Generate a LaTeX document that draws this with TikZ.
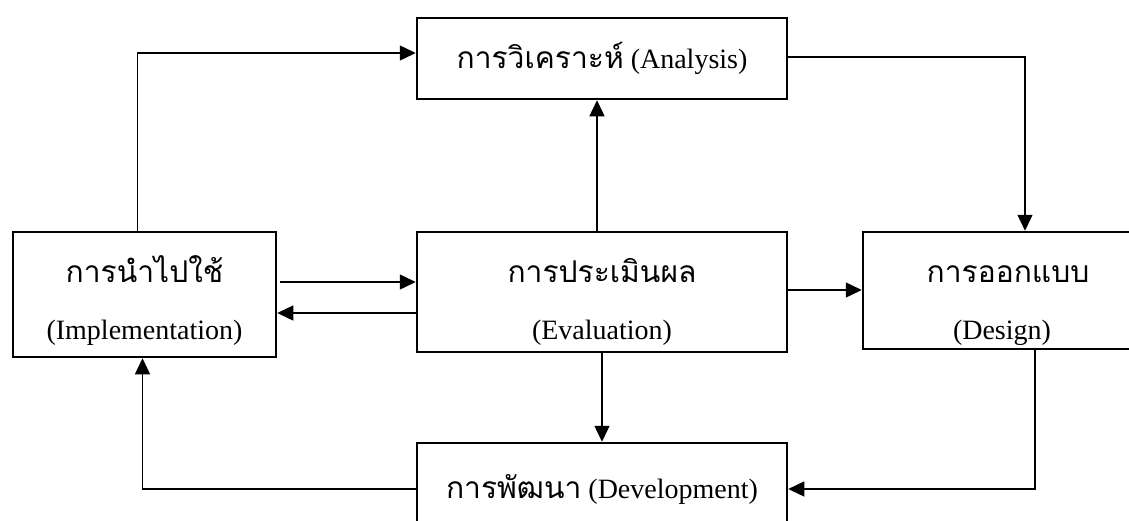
\documentclass[tikz,border=0pt]{standalone}
\usepackage{fontspec}
\setmainfont{Liberation Serif}
\newfontfamily\thaifont[Script=Thai]{Loma}
\usetikzlibrary{arrows.meta}
\newcommand{\thtxt}[1]{{\thaifont\fontsize{30}{36}\selectfont #1}}

\begin{document}
\begin{tikzpicture}[x=1pt,y=-1pt,
  stagebox/.style={draw,line width=2.5pt,rectangle,inner sep=0pt,
    font=\fontsize{28}{34}\selectfont},
  thline/.style={anchor=base,inner sep=0pt,font=\thaifont\fontsize{30}{36}\selectfont},
  enline/.style={anchor=base,inner sep=0pt,font=\fontsize{28}{34}\selectfont},
  flow/.style={line width=1.4pt,-{Triangle[length=16pt,width=15pt]}}]
\useasboundingbox (0,0) rectangle (1129,520);
% stages
\node[stagebox,minimum width=370pt,minimum height=81pt] (ana) at (602,58.5)
  {\thtxt{การวิเคราะห์} (Analysis)};
\node[stagebox,minimum width=263pt,minimum height=125pt] (impl) at (144.5,294.5) {};
\node[thline] (impl-th) at (144.5,282) {การนำไปใช้};
\node[enline] (impl-en) at (144.5,339) {(Implementation)};
\node[stagebox,minimum width=370pt,minimum height=120pt] (eval) at (602,292) {};
\node[thline] (eval-th) at (602,282) {การประเมินผล};
\node[enline] (eval-en) at (602,339) {(Evaluation)};
\node[stagebox,minimum width=290pt,minimum height=117pt] (des) at (1008,290.5) {};
\node[thline] (des-th) at (1008,282) {การออกแบบ};
\node[enline] (des-en) at (1002,339) {(Design)};
\node[stagebox,minimum width=370pt,minimum height=92pt] (dev) at (602,489)
  {\thtxt{การพัฒนา} (Development)};
% connectors
\draw[flow] ([xshift=-7pt]impl.north) |- ([yshift=5.5pt]ana.west);
\draw[flow] ([xshift=-5pt]eval.north) -- ([xshift=-5pt]ana.south);
\draw[flow] ([yshift=1.5pt]ana.east) -| ([xshift=17pt]des.north);
\draw[flow] ([xshift=3pt,yshift=12.5pt]impl.east) -- ([yshift=12.5pt]impl.east -| eval.west);
\draw[flow] ([yshift=-21pt]eval.west) -- ([yshift=-21pt]eval.west -| impl.east);
\draw[flow] ([yshift=2pt]eval.east) -- ([yshift=2pt]eval.east -| des.west);
\draw[flow] (eval.south) -- (dev.north);
\draw[flow] ([xshift=27pt]des.south) |- (dev.east);
\draw[flow] (dev.west) -| ([xshift=-2pt]impl.south);
\end{tikzpicture}
\end{document}
